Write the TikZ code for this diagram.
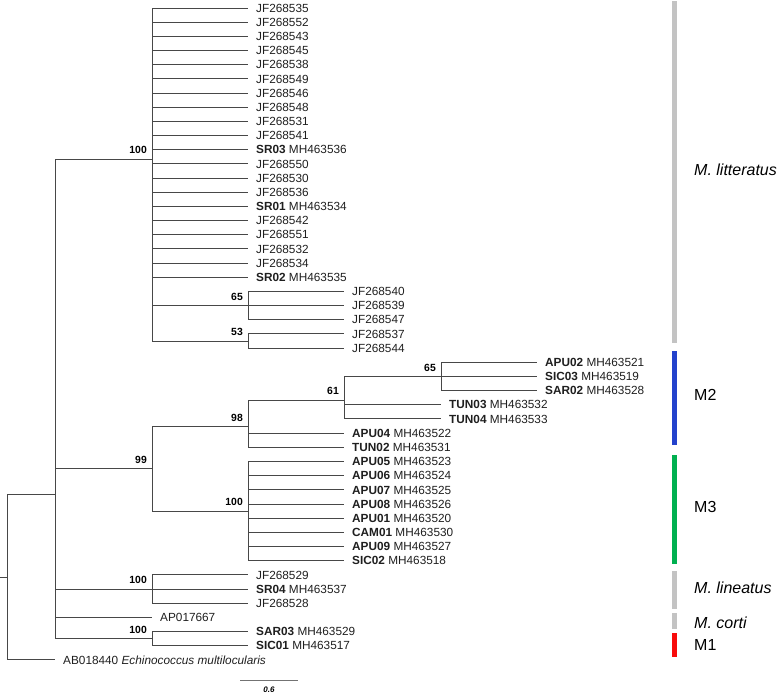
\documentclass[tikz,border=0pt]{standalone}
\usepackage{fontspec}
\setmainfont{Liberation Sans}
\usetikzlibrary{positioning}
\definecolor{cladegrey}{RGB}{195,195,195}
\definecolor{cladeblue}{RGB}{35,66,204}
\definecolor{cladegreen}{RGB}{0,176,80}
\definecolor{cladered}{RGB}{248,12,12}
\tikzset{
    tree diagram/.style = {x=1pt, y=-14.17pt},
    branch/.style       = {draw=black!72, line width=0.9pt},
    leaf/.style         = {anchor=west, inner xsep=8pt, inner ysep=0pt,
                           text height=8.45pt, text depth=0pt, text=black!88,
                           font=\fontsize{11.8}{12}\selectfont},
    boot/.style         = {anchor=south east, inner sep=0pt, xshift=-5pt,
                           yshift=5pt, text height=7.5pt, text depth=0pt,
                           font=\bfseries\fontsize{10.4}{12}\selectfont},
    cladebar/.style     = {line width=5pt},
    cladename/.style    = {anchor=west, inner sep=0pt, text height=11.5pt,
                           text depth=0pt, font=\fontsize{16}{18}\selectfont},
    scalelabel/.style   = {inner sep=0pt, text height=5.7pt, text depth=0pt,
                           font=\bfseries\itshape\fontsize{8}{9}\selectfont}
}

\begin{document}
\begin{tikzpicture}[tree diagram]
\useasboundingbox (0,-0.5646) rectangle (778,48.413);

% ================= Branch points =================
\coordinate (rootstub) at (0,40.169);
\coordinate (root)     at (7,40.169);
\coordinate (ingroup)  at (55,34.337);
\coordinate (litt)     at (152,10.659);
\coordinate (litt65)   at (248,21);
\coordinate (litt53)   at (248,23.5);
\coordinate (m23)      at (152,32.528);
\coordinate (m2)       at (248,29.556);
\coordinate (m2-61)    at (344,27.667);
\coordinate (m2-65)    at (441,26);
\coordinate (m3)       at (248,35.5);
\coordinate (lin)      at (152,41);
\coordinate (m1)       at (152,44.5);

% ================= M. litteratus leaves =================
\foreach \nm/\row in {JF268535/0, JF268552/1, JF268543/2, JF268545/3,
    JF268538/4, JF268549/5, JF268546/6, JF268548/7, JF268531/8, JF268541/9,
    JF268550/11, JF268530/12, JF268536/13, JF268542/15, JF268551/16,
    JF268532/17, JF268534/18, JF268529/40, JF268528/42}
  \node[leaf] (\nm) at (248,\row) {\nm};
\node[leaf] (MH463536) at (248,10) {\textbf{SR03} MH463536};
\node[leaf] (MH463534) at (248,14) {\textbf{SR01} MH463534};
\node[leaf] (MH463535) at (248,19) {\textbf{SR02} MH463535};
\foreach \nm/\row in {JF268540/20, JF268539/21, JF268547/22,
    JF268537/23, JF268544/24}
  \node[leaf] (\nm) at (344,\row) {\nm};

% ================= M2 and M3 leaves =================
\node[leaf] (MH463521) at (537,25) {\textbf{APU02} MH463521};
\node[leaf] (MH463519) at (537,26) {\textbf{SIC03} MH463519};
\node[leaf] (MH463528) at (537,27) {\textbf{SAR02} MH463528};
\node[leaf] (MH463532) at (441,28) {\textbf{TUN03} MH463532};
\node[leaf] (MH463533) at (441,29) {\textbf{TUN04} MH463533};
\foreach \nm/\tag/\row in {MH463522/APU04/30, MH463531/TUN02/31,
    MH463523/APU05/32, MH463524/APU06/33, MH463525/APU07/34,
    MH463526/APU08/35, MH463520/APU01/36, MH463530/CAM01/37,
    MH463527/APU09/38, MH463518/SIC02/39}
  \node[leaf] (\nm) at (344,\row) {\textbf{\tag} \nm};

% ================= Other leaves =================
\node[leaf] (MH463537) at (248,41) {\textbf{SR04} MH463537};
\node[leaf] (AP017667) at (152,43) {AP017667};
\node[leaf] (MH463529) at (248,44) {\textbf{SAR03} MH463529};
\node[leaf] (MH463517) at (248,45) {\textbf{SIC01} MH463517};
\node[leaf] (AB018440) at (55,46) {AB018440 \textit{Echinococcus multilocularis}};

% ================= Branches =================
\draw[branch] (rootstub) -- (root);
\draw[branch] (root) |- (ingroup);
\draw[branch] (root) |- (AB018440.west);
\foreach \c in {litt, m23, lin, m1}
  \draw[branch] (ingroup) |- (\c);
\draw[branch] (ingroup) |- (AP017667.west);
\foreach \c in {JF268535, JF268552, JF268543, JF268545, JF268538, JF268549,
    JF268546, JF268548, JF268531, JF268541, MH463536, JF268550, JF268530,
    JF268536, MH463534, JF268542, JF268551, JF268532, JF268534, MH463535}
  \draw[branch] (litt) |- (\c.west);
\draw[branch] (litt) |- (litt65);
\draw[branch] (litt) |- (litt53);
\foreach \c in {JF268540, JF268539, JF268547}
  \draw[branch] (litt65) |- (\c.west);
\foreach \c in {JF268537, JF268544}
  \draw[branch] (litt53) |- (\c.west);
\draw[branch] (m23) |- (m2);
\draw[branch] (m23) |- (m3);
\draw[branch] (m2) |- (m2-61);
\draw[branch] (m2) |- (MH463522.west);
\draw[branch] (m2) |- (MH463531.west);
\draw[branch] (m2-61) |- (m2-65);
\draw[branch] (m2-61) |- (MH463532.west);
\draw[branch] (m2-61) |- (MH463533.west);
\foreach \c in {MH463521, MH463519, MH463528}
  \draw[branch] (m2-65) |- (\c.west);
\foreach \c in {MH463523, MH463524, MH463525, MH463526, MH463520,
    MH463530, MH463527, MH463518}
  \draw[branch] (m3) |- (\c.west);
\foreach \c in {JF268529, MH463537, JF268528}
  \draw[branch] (lin) |- (\c.west);
\foreach \c in {MH463529, MH463517}
  \draw[branch] (m1) |- (\c.west);

% ================= Bootstrap support =================
\node[boot] (bs-litt)   at (litt)   {100};
\node[boot] (bs-litt65) at (litt65) {65};
\node[boot] (bs-litt53) at (litt53) {53};
\node[boot] (bs-m23)    at (m23)    {99};
\node[boot] (bs-m2)     at (m2)     {98};
\node[boot] (bs-m2-61)  at (m2-61)  {61};
\node[boot] (bs-m2-65)  at (m2-65)  {65};
\node[boot] (bs-m3)     at (m3)     {100};
\node[boot] (bs-lin)    at (lin)    {100};
\node[boot] (bs-m1)     at (m1)     {100};

% ================= Clade bars =================
\draw[cladebar, cladegrey]  (674,-0.49) -- (674,23.64);
\draw[cladebar, cladeblue]  (674,24.21) -- (674,30.84);
\draw[cladebar, cladegreen] (674,31.55) -- (674,39.24);
\draw[cladebar, cladegrey]  (674,39.73) -- (674,42.41);
\draw[cladebar, cladegrey]  (674,42.69) -- (674,43.82);
\draw[cladebar, cladered]   (674,44.11) -- (674,45.80);
\node[cladename] (n-litt) at (694,11.43) {\textit{M. litteratus}};
\node[cladename] (n-m2)   at (694,27.31) {M2};
\node[cladename] (n-m3)   at (694,35.22) {M3};
\node[cladename] (n-lin)  at (694,40.93) {\textit{M. lineatus}};
\node[cladename] (n-cor)  at (694,43.40) {\textit{M. corti}};
\node[cladename] (n-m1)   at (694,44.96) {M1};

% ================= Scale bar =================
\coordinate (sb-l) at (240,47.42);
\coordinate (sb-m) at (269,47.42);
\coordinate (sb-r) at (298,47.42);
\draw[branch, draw=black!55, line width=0.8pt] (sb-l) -- (sb-r);
\node[scalelabel, below=7pt of sb-m] (sb-txt) {0.6};

\end{tikzpicture}
\end{document}
